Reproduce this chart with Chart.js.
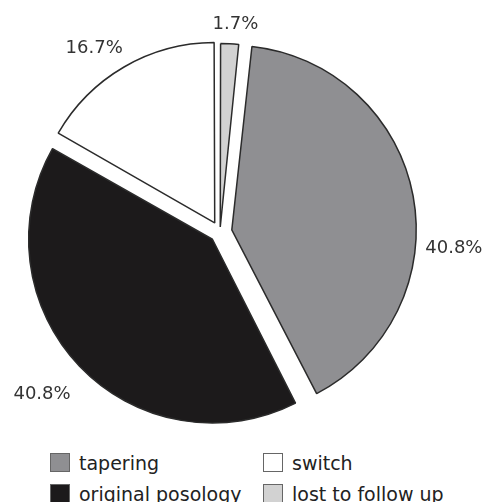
<!DOCTYPE html>
<html>
<head>
<meta charset="utf-8">
<script src="https://cdn.jsdelivr.net/npm/chart.js@4.4.1/dist/chart.umd.min.js"></script>
<style>
    html, body { margin: 0; padding: 0; background: #fff; }
    #wrap { position: relative; width: 483px; height: 502px; overflow: hidden; }
    #pie { position: absolute; left: 0; top: 0; }
    .legend {
        position: absolute; left: 50px; top: 447px;
        display: grid; grid-template-columns: 213px auto; grid-template-rows: 31px 31px;
        grid-auto-flow: column;
        font: 19px 'DejaVu Sans', sans-serif; color: #222;
    }
    .item { display: flex; align-items: center; white-space: nowrap; }
    .box { width: 20px; height: 19px; box-sizing: border-box; border: 1px solid #666; margin-right: 9px; }
</style>
</head>
<body>
<div id="wrap">
    <canvas id="pie" width="483" height="440"></canvas>
    <div class="legend" id="legend"></div>
</div>
<script>
const categories = ['tapering', 'original posology', 'switch', 'lost to follow up'];
const shares = [40.8, 40.8, 16.7, 1.7];
const sliceColors = ['#8f8f92', '#1c1a1b', '#ffffff', '#d2d2d2'];
const explode = [12, 10.5, 10.5, 5]; // px each slice is pulled out

// legend, two columns like the original
const legendEl = document.getElementById('legend');
categories.forEach((name, i) => {
    const item = document.createElement('div');
    item.className = 'item';
    item.innerHTML = `<span class="box" style="background:${sliceColors[i]}"></span><span>${name}</span>`;
    legendEl.appendChild(item);
});

// percentage labels outside each slice
const pctLabels = {
    id: 'pctLabels',
    afterDatasetsDraw(chart, args, opts) {
        const ctx = chart.ctx;
        const meta = chart.getDatasetMeta(0);
        const data = chart.data.datasets[0].data;
        const total = data.reduce((a, b) => a + b, 0);
        ctx.save();
        ctx.font = opts.font;
        ctx.fillStyle = opts.color;
        ctx.textAlign = 'center';
        ctx.textBaseline = 'middle';
        meta.data.forEach((arc, i) => {
            const p = arc.getProps(['x', 'y', 'startAngle', 'endAngle', 'outerRadius'], true);
            const tweak = opts.tweaks[i] || { a: 0, r: 0 };
            const mid = (p.startAngle + p.endAngle) / 2 + tweak.a * Math.PI / 180;
            const text = (data[i] / total * 100).toFixed(1) + '%';
            const w = ctx.measureText(text).width;
            const h = 14;
            // chart.js moves an arc by offset / 4
            const dist = p.outerRadius + (arc.options.offset || 0) / 4 + opts.gap + tweak.r;
            const cx = p.x + Math.cos(mid) * dist + Math.cos(mid) * w / 2;
            const cy = p.y + Math.sin(mid) * dist + Math.sin(mid) * h / 2;
            ctx.fillText(text, cx, cy);
        });
        ctx.restore();
    }
};

const ctx = document.getElementById('pie').getContext('2d');
new Chart(ctx, {
    type: 'pie',
    data: {
        labels: categories,
        datasets: [{
            data: shares,
            backgroundColor: sliceColors,
            borderColor: '#2b2b2b',
            borderWidth: 1.5,
            offset: explode.map(v => v * 4),
            radius: 179
        }]
    },
    options: {
        responsive: false,
        animation: false,
        rotation: 6,
        layout: { padding: { left: 0, right: 43, top: 24, bottom: 0 } },
        plugins: {
            legend: { display: false },
            tooltip: { enabled: false },
            pctLabels: {
                font: "18px 'DejaVu Sans', sans-serif",
                color: '#333',
                gap: 9,
                tweaks: [{ a: 15, r: 6 }, { a: -1.3, r: 24.5 }, { a: -1.8, r: 10.5 }, { a: 1, r: 8 }]
            }
        }
    },
    plugins: [pctLabels]
});
</script>
</body>
</html>
